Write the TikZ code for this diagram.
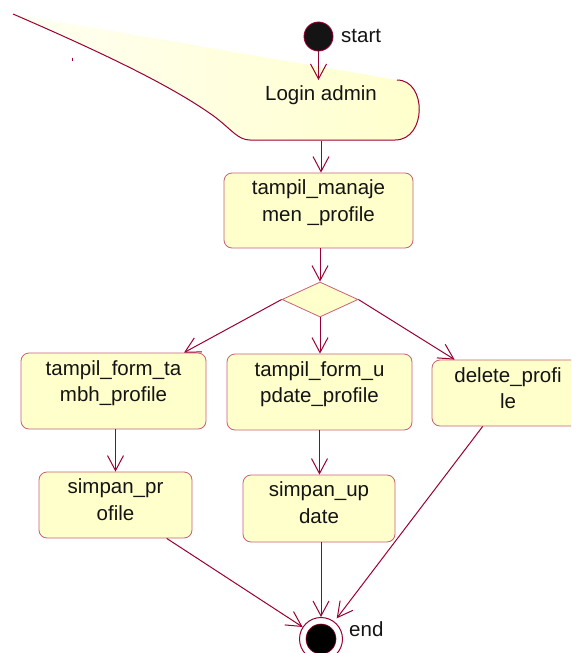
\documentclass[tikz,border=0pt]{standalone}
\usepackage{fontspec}
\setmainfont{Liberation Sans}
\usetikzlibrary{arrows.meta,calc,shapes.geometric}
\definecolor{conn}{RGB}{153,0,51}
\definecolor{boxline}{RGB}{200,96,120}
\definecolor{boxfill}{RGB}{255,255,204}
\definecolor{inktext}{RGB}{20,20,20}
\begin{document}
\begin{tikzpicture}[x=1pt,y=-1pt,
  act/.style={draw=boxline, fill=boxfill, rounded corners=8pt, line width=0.8pt, inner sep=0pt},
  lbl/.style={font=\fontsize{20.5}{26.5}\selectfont, align=center, inner sep=0pt, anchor=north, text=inktext},
  flow/.style={draw=conn, line width=1pt, -{Straight Barb[length=15pt,width=16pt,line width=1pt]}},
]
\useasboundingbox (0,0) rectangle (571,653);
\clip (0,0) rectangle (571,653);

% Login admin shape
\shade[left color=boxfill!25!white, right color=boxfill]
  (397,80) -- (13,14) .. controls (110,56) and (175,88) .. (215,117)
  .. controls (232,130) and (238,140) .. (250,140) -- (395,140)
  .. controls (427,140) and (427,80) .. (397,80) -- cycle;
\draw[draw=conn, line width=1pt]
  (13,14) .. controls (110,56) and (175,88) .. (215,117)
  .. controls (232,130) and (238,140) .. (250,140) -- (395,140)
  .. controls (427,140) and (427,80) .. (397,80);
\node[lbl, anchor=center] (login) at (321,95) {Login admin};
\coordinate (loginN) at (318.5,80);
\coordinate (loginS) at (321,141);
\draw[conn, line width=0.8pt] (72,57.5) -- (72,60.5);

% start
\node[circle, fill=black!92, draw=conn, line width=0.8pt, minimum size=29pt, inner sep=0pt] (start) at (318.5,36.5) {};
\node[lbl, anchor=west] (starttxt) at (341,36) {start};

% activities
\node[act, minimum width=189pt, minimum height=75pt] (mgr) at (318.5,210.5) {};
\node[lbl] (mgrtxt) at ([yshift=-7.3pt]mgr.north) {tampil\_manaje\\men \_profile};

\node[diamond, draw=boxline, fill=boxfill, line width=0.8pt, minimum width=76pt, minimum height=35pt, inner sep=0pt] (dia) at (320,299.5) {};

\node[act, minimum width=185pt, minimum height=76pt] (tambah) at (113.5,391) {};
\node[lbl] (tambahtxt) at ([yshift=-7.6pt]tambah.north) {tampil\_form\_ta\\mbh\_profile};

\node[act, minimum width=185pt, minimum height=76pt] (update) at (319.5,392) {};
\node[lbl] (updatetxt) at ([yshift=-7.6pt]update.north) {tampil\_form\_u\\pdate\_profile};

\node[act, minimum width=152pt, minimum height=66pt] (delete) at (508,393) {};
\node[lbl] (deletetxt) at ([yshift=-7.6pt]delete.north) {delete\_profi\\le};

\node[act, minimum width=153pt, minimum height=66pt] (simpanpr) at (115.5,505) {};
\node[lbl] (simpanprtxt) at ([yshift=-7.3pt]simpanpr.north) {simpan\_pr\\ofile};

\node[act, minimum width=152pt, minimum height=67pt] (simpanup) at (319,508.5) {};
\node[lbl] (simpanuptxt) at ([yshift=-7.3pt]simpanup.north) {simpan\_up\\date};

% end
\node[circle, draw=conn, fill=white, line width=1pt, minimum size=43pt, inner sep=0pt] (end) at (321,639) {};
\node[circle, fill=black, draw=conn, line width=0.6pt, minimum size=30pt, inner sep=0pt] (endin) at (end) {};
\node[lbl, anchor=west] (endtxt) at (349,629) {end};

% connectors
\draw[flow] (start) -- (loginN);
\draw[flow] (loginS) -- (loginS |- mgr.north);
\draw[flow] (mgr.south -| dia.north) -- (dia.north);
\draw[flow] (dia.west) -- (tambah);
\draw[flow] (dia.east) -- (delete);
\draw[flow] (dia.south) -- (dia.south |- update.north);
\draw[flow] (tambah.south -| simpanpr.north) -- (simpanpr.north);
\draw[flow] (update.south) -- (update.south |- simpanup.north);
\draw[flow] (simpanpr) -- (end);
\draw[flow] (end |- simpanup.south) -- (end);
\draw[flow, shorten >=4pt] (delete) -- (end);
\end{tikzpicture}
\end{document}
